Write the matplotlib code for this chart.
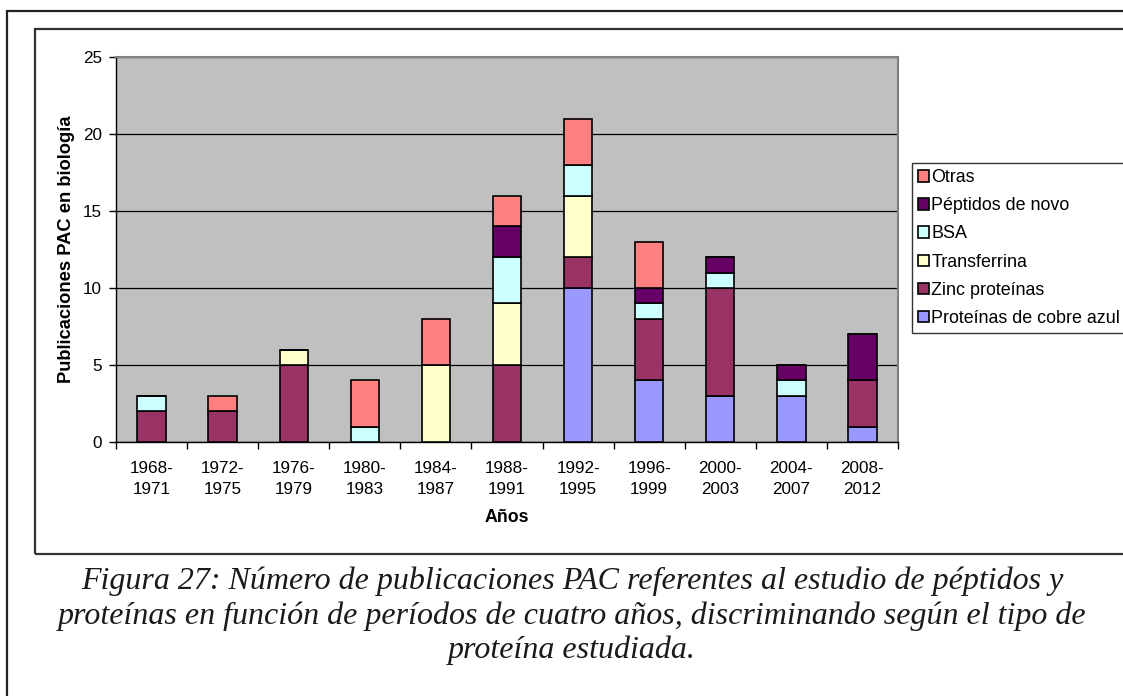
import numpy as np
import matplotlib.pyplot as plt
from matplotlib.patches import Rectangle

# datos
periodos = ['1968-\n1971', '1972-\n1975', '1976-\n1979', '1980-\n1983', '1984-\n1987',
            '1988-\n1991', '1992-\n1995', '1996-\n1999', '2000-\n2003', '2004-\n2007',
            '2008-\n2012']
cobre  = [0, 0, 0, 0, 0, 0, 10, 4, 3, 3, 1]
zinc   = [2, 2, 5, 0, 0, 5, 2, 4, 7, 0, 3]
transf = [0, 0, 1, 0, 5, 4, 4, 0, 0, 0, 0]
bsa    = [1, 0, 0, 1, 0, 3, 2, 1, 1, 1, 0]
novo   = [0, 0, 0, 0, 0, 2, 0, 1, 1, 1, 3]
otras  = [0, 1, 0, 3, 3, 2, 3, 3, 0, 0, 0]

series = [('Proteínas de cobre azul', cobre, '#9999FF'),
          ('Zinc proteínas', zinc, '#993366'),
          ('Transferrina', transf, '#FFFFCC'),
          ('BSA', bsa, '#CCFFFF'),
          ('Péptidos de novo', novo, '#660066'),
          ('Otras', otras, '#FF8080')]

plt.rcParams['font.family'] = ['Liberation Sans', 'DejaVu Sans']

W, H = 1123, 696
fig = plt.figure(figsize=(W/100, H/100), dpi=100)
fig.patch.set_facecolor('white')

# marcos exteriores
fig.patches.append(Rectangle((7/W, -0.1), 1.2, 1 - 11/H + 0.1, transform=fig.transFigure,
                             fill=False, lw=1.6, ec='#222222', clip_on=False))
fig.patches.append(Rectangle((35/W, 1 - 554/H), 1.2, (554 - 29)/H, transform=fig.transFigure,
                             fill=False, lw=1.6, ec='#333333', clip_on=False))

ax = fig.add_axes([116/W, 1 - 442/H, (898 - 116)/W, (442 - 57)/H])
ax.set_facecolor('#C0C0C0')

x = np.arange(len(periodos))
base = np.zeros(len(periodos))
handles = []
for nombre, vals, col in series:
    v = np.array(vals, dtype=float)
    b = ax.bar(x, v, 0.4, bottom=base, color=col, edgecolor='black', lw=1.2,
               label=nombre, zorder=3)
    handles.append(b)
    base += v

ax.set_xlim(-0.5, len(periodos) - 0.5)
ax.set_ylim(0, 25)
ax.set_yticks([0, 5, 10, 15, 20, 25])
ax.yaxis.grid(True, color='black', lw=0.9, zorder=1)
ax.set_axisbelow(True)
ax.set_xticks(x)
ax.set_xticklabels(periodos, fontsize=12.3, linespacing=1.45)
ax.set_xticks(np.arange(-0.5, len(periodos)), minor=True)
ax.tick_params(axis='x', which='major', length=0, pad=14)
ax.tick_params(axis='x', which='minor', length=5, width=1, color='black')
ax.tick_params(axis='y', length=5, width=1, labelsize=12.3, pad=5)
for s in ['top', 'right']:
    ax.spines[s].set_color('#808080')
    ax.spines[s].set_linewidth(1.5)
ax.spines['left'].set_linewidth(1)
ax.spines['bottom'].set_linewidth(1)

ax.set_ylabel('Publicaciones PAC en biología', fontsize=13.2, fontweight='bold', labelpad=6)
ax.set_xlabel('Años', fontsize=12.8, fontweight='bold', labelpad=9)

leg = fig.legend(handles[::-1], [s[0] for s in series][::-1],
                 loc='upper left', bbox_to_anchor=(912/W, 1 - 163/H),
                 fontsize=12.9, frameon=True, fancybox=False, shadow=False,
                 handlelength=0.6, handleheight=0.6, handletextpad=0.12,
                 labelspacing=0.62, borderpad=0.35, borderaxespad=0)
leg.get_frame().set_edgecolor('black')
leg.get_frame().set_linewidth(1)

caption = ('Figura 27: Número de publicaciones PAC referentes al estudio de péptidos y\n'
           'proteínas en función de períodos de cuatro años, discriminando según el tipo de\n'
           'proteína estudiada.')
fig.text(572/W, 1 - 616/H, caption, ha='center', va='center', fontsize=23,
         family=['Liberation Serif', 'DejaVu Serif'], style='italic', linespacing=1.22,
         color='#1a1a1a')

fig.savefig('out.png', dpi=100)
